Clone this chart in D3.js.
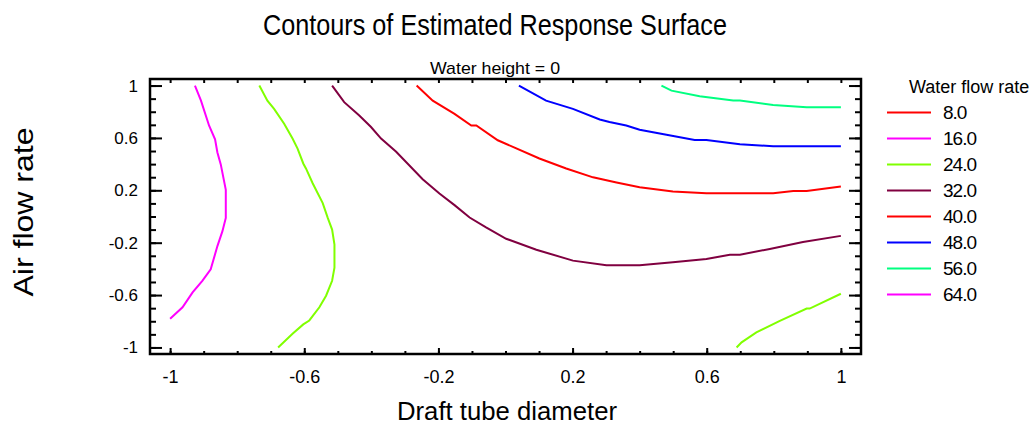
<!DOCTYPE html>
<html>
<head>
<meta charset="utf-8">
<script src="https://cdn.jsdelivr.net/npm/d3@7"></script>
<style>
  body { margin: 0; background: #fff; }
  text { font-family: Arial, "Liberation Sans", sans-serif; fill: #000; }
</style>
</head>
<body>
<svg id="chart" width="1034" height="426"></svg>
<script>
// legend levels and their colours
var levels = ['8.0', '16.0', '24.0', '32.0', '40.0', '48.0', '56.0', '64.0'];
var levelColors = ['#ff0000', '#ff00ff', '#80ff00', '#800040', '#ff0000', '#0000ff', '#00ff80', '#ff00ff'];

// contour lines: [draft tube diameter, air flow rate]
var line16 = [[-0.926, 1.0], [-0.908, 0.885], [-0.884, 0.695], [-0.866, 0.589], [-0.859, 0.489], [-0.849, 0.398],
  [-0.834, 0.203], [-0.834, -0.011], [-0.844, -0.112], [-0.859, -0.226], [-0.879, -0.403], [-0.904, -0.491],
  [-0.933, -0.580], [-0.963, -0.693], [-1.0, -0.78]];
var line24a = [[-0.734, 1.0], [-0.710, 0.885], [-0.690, 0.822], [-0.660, 0.708], [-0.635, 0.595], [-0.620, 0.519],
  [-0.603, 0.405], [-0.595, 0.367], [-0.575, 0.254], [-0.545, 0.102], [-0.530, -0.011], [-0.517, -0.100],
  [-0.510, -0.214], [-0.510, -0.390], [-0.517, -0.491], [-0.535, -0.605], [-0.555, -0.693], [-0.585, -0.794],
  [-0.603, -0.824], [-0.635, -0.895], [-0.678, -1.0]];
var line24b = [[0.689, -1.0], [0.704, -0.961], [0.748, -0.885], [0.818, -0.797], [0.898, -0.703], [0.907, -0.703], [1.0, -0.59]];
var line32 = [[-0.517, 1.0], [-0.481, 0.873], [-0.436, 0.771], [-0.401, 0.683], [-0.371, 0.595], [-0.326, 0.494],
  [-0.247, 0.284], [-0.197, 0.176], [-0.152, 0.087], [-0.107, -0.008], [-0.058, -0.083], [0.002, -0.170],
  [0.092, -0.254], [0.201, -0.337], [0.301, -0.373], [0.400, -0.373], [0.499, -0.350], [0.599, -0.324],
  [0.669, -0.292], [0.699, -0.292], [0.788, -0.248], [0.887, -0.195], [1.0, -0.148]];
var line40 = [[-0.265, 1.0], [-0.217, 0.885], [-0.152, 0.784], [-0.102, 0.695], [-0.087, 0.695], [-0.023, 0.582],
  [0.022, 0.532], [0.101, 0.443], [0.181, 0.367], [0.261, 0.299], [0.331, 0.259], [0.400, 0.223], [0.499, 0.191],
  [0.599, 0.178], [0.699, 0.178], [0.798, 0.178], [0.858, 0.195], [0.898, 0.195], [1.0, 0.229]];
var line48 = [[0.040, 1.0], [0.121, 0.885], [0.201, 0.822], [0.281, 0.741], [0.310, 0.721], [0.360, 0.695],
  [0.400, 0.663], [0.480, 0.625], [0.564, 0.585], [0.599, 0.585], [0.699, 0.552], [0.798, 0.536], [1.0, 0.536]];
var line56 = [[0.465, 1.0], [0.495, 0.961], [0.579, 0.918], [0.679, 0.885], [0.699, 0.885], [0.798, 0.852],
  [0.898, 0.835], [1.0, 0.835]];

// which legend entry each line belongs to
var contours = [
  { level: '16.0', points: line16 },
  { level: '24.0', points: line24a },
  { level: '24.0', points: line24b },
  { level: '32.0', points: line32 },
  { level: '40.0', points: line40 },
  { level: '48.0', points: line48 },
  { level: '56.0', points: line56 }
];

var xTicks = [-1, -0.6, -0.2, 0.2, 0.6, 1];
var yTicks = [-1, -0.6, -0.2, 0.2, 0.6, 1];
var minorTicks = d3.range(-10, 11).map(function (i) { return i / 10; });

var svg = d3.select('#chart');
var plot = { left: 150, right: 861, top: 79, bottom: 354 };

var x = d3.scaleLinear().domain([-1.06, 1.06]).range([plot.left, plot.right]);
var y = d3.scaleLinear().domain([-1.05, 1.05]).range([plot.bottom, plot.top]);

var color = d3.scaleOrdinal().domain(levels).range(levelColors);

// titles
svg.append('text')
  .attr('x', 495).attr('y', 35)
  .attr('text-anchor', 'middle')
  .attr('font-size', 29)
  .attr('textLength', 464).attr('lengthAdjust', 'spacingAndGlyphs')
  .text('Contours of Estimated Response Surface');

svg.append('text')
  .attr('x', 495).attr('y', 74)
  .attr('text-anchor', 'middle')
  .attr('font-size', 17)
  .attr('textLength', 130).attr('lengthAdjust', 'spacingAndGlyphs')
  .text('Water height = 0');

// contour lines
var line = d3.line()
  .x(function (d) { return x(d[0]); })
  .y(function (d) { return y(d[1]); });

svg.append('g').selectAll('path')
  .data(contours)
  .enter()
  .append('path')
  .attr('d', function (c) { return line(c.points); })
  .attr('fill', 'none')
  .attr('stroke', function (c) { return color(c.level); })
  .attr('stroke-width', 2);

// axes: ticks point inside the frame
function fmt(d) { return String(d); }

function addAxis(axis, tx, ty) {
  var g = svg.append('g').attr('transform', 'translate(' + tx + ',' + ty + ')').call(axis);
  g.select('.domain').remove();
  g.selectAll('.tick line').attr('stroke', '#000').attr('stroke-width', 2);
  return g;
}

addAxis(d3.axisBottom(x).tickValues(minorTicks).tickSize(-3).tickFormat(''), 0, plot.bottom);
var gx = addAxis(d3.axisBottom(x).tickValues(xTicks).tickSize(-6).tickPadding(16).tickFormat(fmt), 0, plot.bottom);
gx.selectAll('text').attr('font-size', 18).attr('font-family', 'Arial, "Liberation Sans", sans-serif');

addAxis(d3.axisTop(x).tickValues(minorTicks).tickSize(-4).tickFormat(''), 0, plot.top);

addAxis(d3.axisLeft(y).tickValues(minorTicks).tickSize(-6).tickFormat(''), plot.left, 0);
var gy = addAxis(d3.axisLeft(y).tickValues(yTicks).tickSize(-12).tickPadding(12).tickFormat(fmt), plot.left, 0);
gy.selectAll('text').attr('font-size', 17).attr('font-family', 'Arial, "Liberation Sans", sans-serif');

addAxis(d3.axisRight(y).tickValues(minorTicks).tickSize(-6).tickFormat(''), plot.right, 0);
addAxis(d3.axisRight(y).tickValues(yTicks).tickSize(-12).tickFormat(''), plot.right, 0);

// frame
svg.append('rect')
  .attr('x', plot.left).attr('y', plot.top)
  .attr('width', plot.right - plot.left).attr('height', plot.bottom - plot.top)
  .attr('fill', 'none').attr('stroke', '#000').attr('stroke-width', 2.5);

// axis titles
svg.append('text')
  .attr('x', 507).attr('y', 420)
  .attr('text-anchor', 'middle')
  .attr('font-size', 26)
  .attr('textLength', 220).attr('lengthAdjust', 'spacingAndGlyphs')
  .text('Draft tube diameter');

svg.append('text')
  .attr('transform', 'translate(33,212) rotate(-90)')
  .attr('text-anchor', 'middle')
  .attr('font-size', 28)
  .attr('textLength', 169).attr('lengthAdjust', 'spacingAndGlyphs')
  .text('Air flow rate');

// legend
var legend = svg.append('g').attr('transform', 'translate(887,112.5)');

legend.append('text')
  .attr('x', 22).attr('y', -20)
  .attr('font-size', 18)
  .text('Water flow rate');

var items = legend.selectAll('g.item')
  .data(levels)
  .enter()
  .append('g')
  .attr('class', 'item')
  .attr('transform', function (d, i) { return 'translate(0,' + i * 26 + ')'; });

items.append('line')
  .attr('x1', 0).attr('x2', 44)
  .attr('stroke', function (d) { return color(d); })
  .attr('stroke-width', 2);

items.append('text')
  .attr('x', 56).attr('dy', '0.36em')
  .attr('font-size', 19)
  .attr('letter-spacing', -1)
  .text(function (d) { return d; });
</script>
</body>
</html>
